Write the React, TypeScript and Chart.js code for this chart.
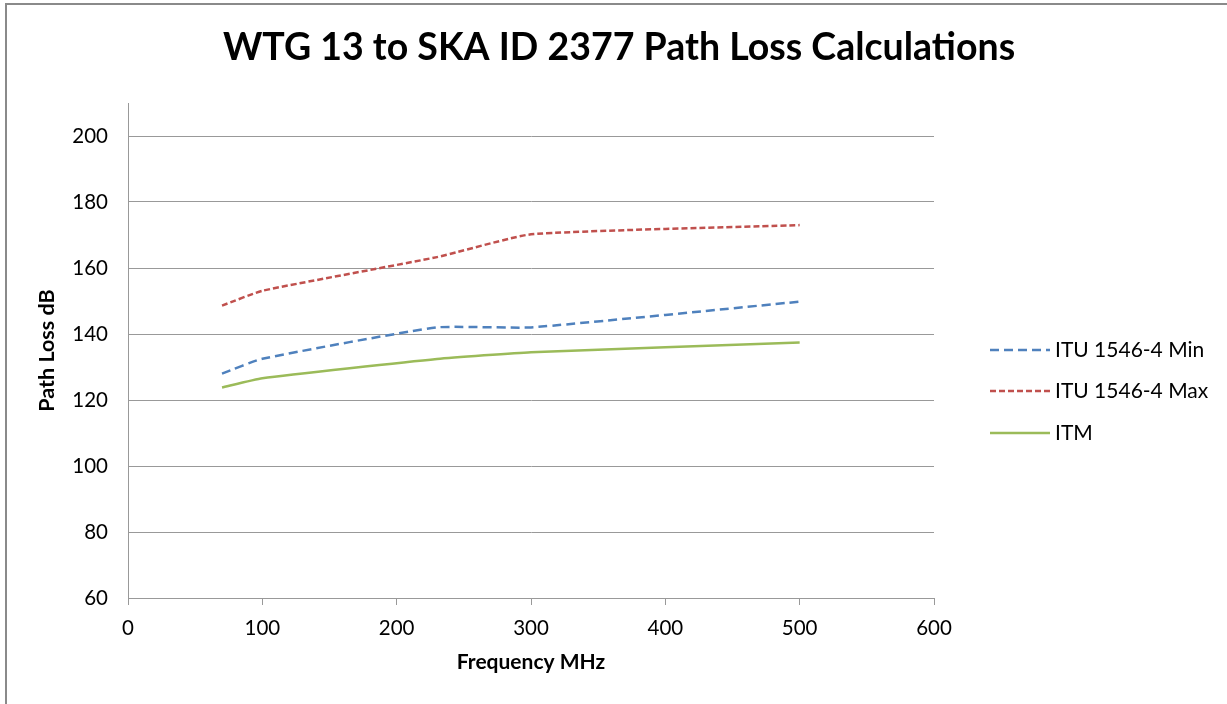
import React, { useEffect, useRef } from 'react';
import { Chart, registerables } from 'chart.js';

Chart.register(...registerables);

const TITLE = 'WTG 13 to SKA ID 2377 Path Loss Calculations';
const X_TITLE = 'Frequency MHz';
const Y_TITLE = 'Path Loss dB';

const frequencies = [70, 100, 230, 300, 500];
const ituMin = [128, 132.5, 142, 142, 149.8];
const ituMax = [148.6, 153.1, 163.3, 170.2, 173];
const itm = [123.8, 126.6, 132.4, 134.5, 137.4];

const seriesNames = ['ITU 1546-4 Min', 'ITU 1546-4 Max', 'ITM'];
const seriesColors = ['#4f81bd', '#c0504d', '#9bbb59'];
const seriesDash = [[9, 5], [6, 3], []];

const X_MIN = 0;
const X_MAX = 600;
const X_STEP = 100;
const Y_MIN = 60;
const Y_MAX = 210;
const Y_STEP = 20;

const FONT = "Lato, 'Open Sans', sans-serif";

const framePlugin = {
  id: 'frame',
  beforeDraw(chart: any) {
    const ctx = chart.ctx;
    ctx.save();
    ctx.fillStyle = '#ffffff';
    ctx.fillRect(0, 0, chart.width, chart.height);
    ctx.fillStyle = '#8a8a8a';
    ctx.fillRect(5, 3, 2, chart.height - 3);
    ctx.fillRect(5, 3, chart.width - 5, 2);
    ctx.fillStyle = '#000';
    ctx.font = `bold 37.5px ${FONT}`;
    ctx.textAlign = 'center';
    ctx.textBaseline = 'middle';
    ctx.fillText(TITLE, 619, 48);
    ctx.restore();
  },
};

const legendPlugin = {
  id: 'customLegend',
  afterDraw(chart: any) {
    const ctx = chart.ctx;
    ctx.save();
    const x0 = 990;
    const x1 = 1050;
    const rows = [350, 391, 433];
    chart.data.datasets.forEach((ds: any, i: number) => {
      const y = rows[i];
      ctx.strokeStyle = ds.borderColor;
      ctx.lineWidth = ds.borderWidth;
      ctx.setLineDash(ds.borderDash || []);
      ctx.beginPath();
      ctx.moveTo(x0, y);
      ctx.lineTo(x1, y);
      ctx.stroke();
      ctx.setLineDash([]);
      ctx.fillStyle = '#000';
      ctx.font = `21px ${FONT}`;
      ctx.textAlign = 'left';
      ctx.textBaseline = 'middle';
      ctx.fillText(ds.label, 1055, y);
    });
    ctx.restore();
  },
};

export default function App() {
  const ref = useRef<HTMLCanvasElement | null>(null);

  useEffect(() => {
    if (!ref.current) return;
    const datasets = [ituMin, ituMax, itm].map((vals, i) => ({
      label: seriesNames[i],
      data: frequencies.map((f, j) => ({ x: f, y: vals[j] })),
      borderColor: seriesColors[i],
      backgroundColor: seriesColors[i],
      borderWidth: 2.5,
      borderDash: seriesDash[i],
      pointRadius: 0,
      tension: 0.15,
      fill: false,
    }));

    const chart = new Chart(ref.current, {
      type: 'line',
      data: { datasets },
      plugins: [framePlugin, legendPlugin],
      options: {
        responsive: false,
        animation: false,
        devicePixelRatio: 1,
        layout: { padding: { left: 8, top: 103, right: 293, bottom: 26 } },
        plugins: {
          legend: { display: false },
          title: { display: false },
          tooltip: { enabled: false },
        },
        scales: {
          x: {
            type: 'linear',
            min: X_MIN,
            max: X_MAX,
            afterFit: (s: any) => { s.height = 80; },
            ticks: {
              stepSize: X_STEP,
              color: '#000',
              font: { family: FONT, size: 20.5 },
              padding: 11,
              maxRotation: 0,
            },
            grid: {
              drawOnChartArea: false,
              drawTicks: true,
              tickLength: 7,
              color: '#999',
              lineWidth: 1,
            },
            border: { color: '#999', width: 1 },
            title: {
              display: true,
              text: X_TITLE,
              color: '#000',
              font: { family: FONT, size: 21, weight: 'bold' },
              padding: { top: 0, bottom: 3 },
            },
          },
          y: {
            type: 'linear',
            min: Y_MIN,
            max: Y_MAX,
            afterFit: (s: any) => { s.width = 120; },
            afterBuildTicks: (s: any) => {
              s.ticks = s.ticks.filter((t: any) => (t.value - Y_MIN) % Y_STEP === 0);
            },
            ticks: {
              stepSize: Y_STEP,
              color: '#000',
              font: { family: FONT, size: 20.5 },
              padding: 20,
            },
            grid: {
              drawTicks: false,
              color: '#999',
              lineWidth: 1,
            },
            border: { color: '#999', width: 1 },
            title: {
              display: true,
              text: Y_TITLE,
              color: '#000',
              font: { family: FONT, size: 21.5, weight: 'bold' },
              padding: { top: 26, bottom: 0 },
            },
          },
        },
      },
    });
    return () => chart.destroy();
  }, []);

  return (
    <div style={{ position: 'fixed', left: 0, top: 0, width: 1227, height: 704 }}>
      <canvas ref={ref} width={1227} height={704} style={{ display: 'block' }} />
    </div>
  );
}
